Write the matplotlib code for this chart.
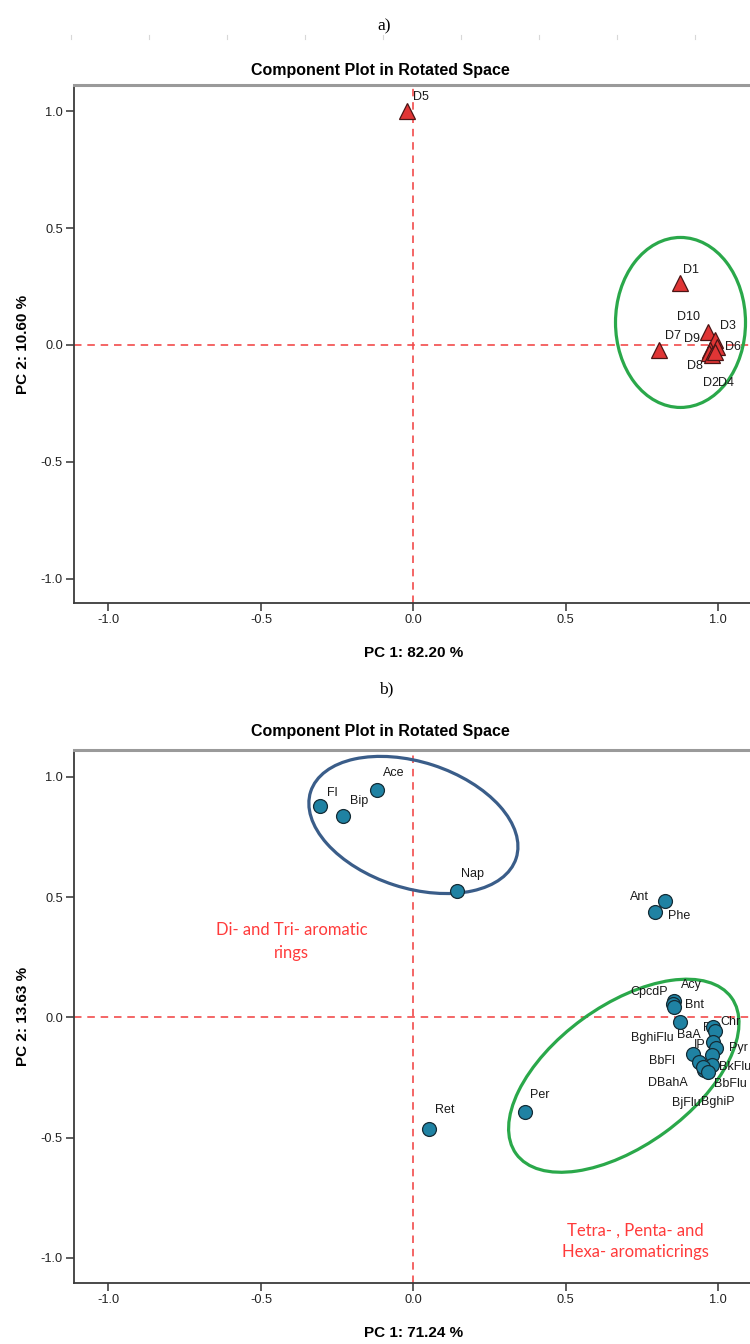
"""Two rotated-component loading plots (SPSS style), a) samples, b) PAHs."""
import matplotlib
matplotlib.use("Agg")
import matplotlib.pyplot as plt
from matplotlib.lines import Line2D
from matplotlib.patches import Ellipse
from matplotlib.transforms import ScaledTranslation

# ---- panel a: sample loadings -------------------------------------------
samples = ["D5", "D1", "D10", "D3", "D9", "D7", "D6", "D8", "D2", "D4"]
samples_pc1 = [-0.02, 0.873, 0.967, 0.99, 0.974, 0.804, 0.997, 0.971, 0.98, 0.99]
samples_pc2 = [1.00, 0.266, 0.056, 0.021, -0.021, -0.021, -0.009, -0.034, -0.043, -0.030]
var_a = (82.20, 10.60)

# ---- panel b: compound loadings -----------------------------------------
compounds = ["Fl", "Bip", "Ace", "Nap", "Ant", "Phe", "Ret", "Per",
             "Acy", "CpcdP", "Bnt", "BaA", "Flu", "Chr", "IP", "Pyr",
             "BghiFlu", "BbFl", "BkFlu", "BbFlu", "DBahA", "BjFlu", "BghiP"]
compounds_pc1 = [-0.307, -0.232, -0.121, 0.144, 0.824, 0.791, 0.052, 0.366,
                 0.856, 0.853, 0.856, 0.873, 0.984, 0.99, 0.984, 0.993,
                 0.918, 0.938, 0.98, 0.98, 0.954, 0.951, 0.967]
compounds_pc2 = [0.877, 0.836, 0.944, 0.524, 0.482, 0.44, -0.466, -0.395,
                 0.067, 0.054, 0.042, -0.021, -0.042, -0.058, -0.104, -0.129,
                 -0.154, -0.187, -0.158, -0.20, -0.22, -0.208, -0.229]
var_b = (71.24, 13.63)

# label offsets from the marker centre, in pixels (x right, y up)
OFFSET_A = {"D5": (6, 14), "D1": (3, 13), "D10": (-31, 15), "D3": (5, 14),
            "D9": (-26, 11), "D7": (6, 14), "D6": (8, 0), "D8": (-22, -13),
            "D2": (-9, -28), "D4": (3, -31)}
OFFSET_B = {"Fl": (7, 13), "Bip": (7, 15), "Ace": (6, 17), "Nap": (4, 17),
            "Ant": (-35, 4), "Phe": (13, -4), "Ret": (6, 19), "Per": (5, 17),
            "Acy": (7, 16), "CpcdP": (-43, 12), "Bnt": (11, 2), "BaA": (-3, -13),
            "Flu": (-10, -1), "Chr": (5, 9), "IP": (-20, -3), "Pyr": (13, 0),
            "BghiFlu": (-62, 16), "BbFl": (-50, 1), "BkFlu": (7, -12),
            "BbFlu": (2, -19), "DBahA": (-56, -13), "BjFlu": (-31, -36),
            "BghiP": (-7, -30)}

SANS = ["Liberation Sans", "DejaVu Sans"]
RED_LINE = "#f24b4b"
GREEN = "#2aa84a"
BLUE_RING = "#3a5d89"
TRI_FACE, TRI_EDGE = "#e03535", "#4a1515"
DOT_FACE, DOT_EDGE = "#1f82a3", "#142c36"
XLIM = (-1.113, 1.113)
YLIM = (-1.105, 1.112)

plt.rcParams["font.family"] = SANS
fig = plt.figure(figsize=(7.5, 13.44), dpi=100)


def ring(ax, centre, half_w_px, half_h_px, angle, colour):
    """Ellipse drawn in screen pixels, centred on a data point."""
    trans = fig.dpi_scale_trans + ScaledTranslation(*centre, ax.transData)
    ax.add_patch(Ellipse((0, 0), 2*half_w_px/100, 2*half_h_px/100, angle=angle,
                         transform=trans, fill=False, ec=colour, lw=2.3,
                         zorder=2))


def panel(rect, xs, ys, names, offsets, marker, size, face, edge, var):
    ax = fig.add_axes(rect)
    ax.set_xlim(*XLIM)
    ax.set_ylim(*YLIM)
    for line in (ax.axhline, ax.axvline):
        line(0, color=RED_LINE, lw=1.2, dashes=(4.5, 3.5), zorder=1)
    for name, x, y in zip(names, xs, ys):
        dx, dy = offsets[name]
        ax.annotate(name, (x, y), xytext=(dx, dy), textcoords="offset pixels",
                    ha="left", va="center", fontsize=9, color="#1a1a1a",
                    zorder=3, annotation_clip=False)
    ax.plot(xs, ys, ls="none", marker=marker, ms=size, mfc=face, mec=edge,
            mew=0.9, zorder=4, clip_on=False)
    ticks = [-1.0, -0.5, 0.0, 0.5, 1.0]
    ax.set_xticks(ticks, [f"{t:.1f}" for t in ticks])
    ax.set_yticks(ticks, [f"{t:.1f}" for t in ticks])
    ax.tick_params(direction="out", length=6, width=1.1, color="#333333",
                   labelsize=9.2, labelcolor="#222222", pad=2)
    for side in ("left", "bottom"):
        ax.spines[side].set_color("#3a3a3a")
        ax.spines[side].set_linewidth(1.3)
    ax.spines["top"].set_color("#9a9a9a")
    ax.spines["top"].set_linewidth(2.2)
    ax.spines["right"].set_visible(False)
    ax.set_xlabel(f"PC 1: {var[0]:.2f} %", fontsize=11, fontweight="bold",
                  labelpad=14)
    ax.set_ylabel(f"PC 2: {var[1]:.2f} %", fontsize=11, fontweight="bold",
                  labelpad=8)
    return ax


ax_a = panel([0.0987, 0.5513, 0.905, 0.3854], samples_pc1, samples_pc2,
             samples, OFFSET_A, "^", 12, TRI_FACE, TRI_EDGE, var_a)
ring(ax_a, (0.876, 0.096), 65, 85, 0, GREEN)

ax_b = panel([0.0987, 0.0454, 0.905, 0.3966], compounds_pc1, compounds_pc2,
             compounds, OFFSET_B, "o", 10, DOT_FACE, DOT_EDGE, var_b)
ring(ax_b, (0.0, 0.80), 108, 63, -18, BLUE_RING)
ring(ax_b, (0.69, -0.243), 133, 70, 36, GREEN)

note = dict(ha="center", va="center", color="#ff3b3b", fontsize=12,
            family=["Lato", "DejaVu Sans"])
ax_b.text(-0.40, 0.315, "Di- and Tri- aromatic\nrings", linespacing=1.55,
          **note)
ax_b.text(0.728, -0.93, "Tetra- , Penta- and\nHexa- aromaticrings",
          linespacing=1.4, **note)

title = dict(ha="center", va="center", fontsize=11.5, fontweight="bold")
fig.text(380/750, 1 - 70/1344, "Component Plot in Rotated Space", **title)
fig.text(380/750, 1 - 732/1344, "Component Plot in Rotated Space", **title)

serif = dict(ha="center", va="center", fontsize=12.5,
             family=["Liberation Serif", "DejaVu Serif"])
fig.text(384/750, 1 - 26/1344, "a)", **serif)
fig.text(386/750, 1 - 689/1344, "b)", **serif)

# faint page-ruler marks from the source document
for px in range(71, 750, 78):
    fig.add_artist(Line2D([px/750]*2, [1 - 35/1344, 1 - 39/1344],
                          color="#d8d8d8", lw=0.8))

fig.savefig("out.png", dpi=100)
